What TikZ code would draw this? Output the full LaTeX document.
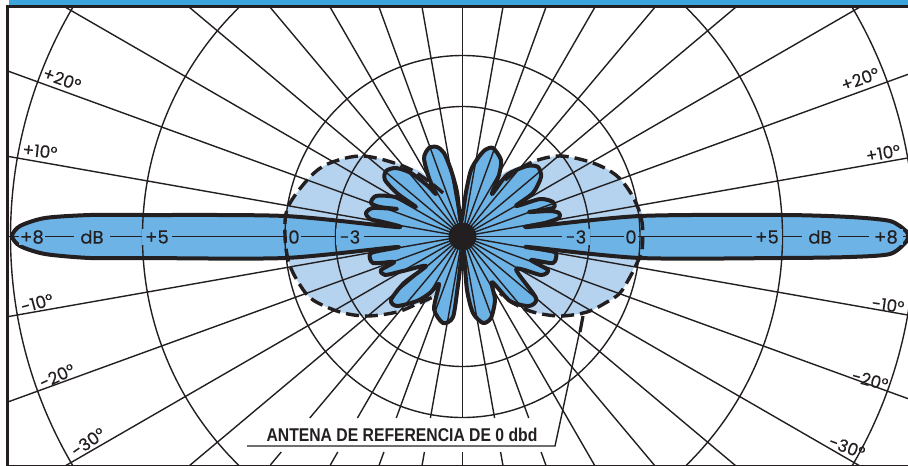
\documentclass[tikz,border=0pt]{standalone}
\usepackage{fontspec}
\setmainfont{Poppins}[FakeBold=0.25]
\newfontfamily\labelfont{Liberation Sans}
\definecolor{lobeblue}{HTML}{6DB3E5}
\definecolor{refblue}{HTML}{B5D3EE}
\definecolor{barblue}{HTML}{3DA5DE}
\definecolor{ink}{HTML}{231F20}
\def\lobepath{plot[smooth cycle,tension=.45] coordinates {
(12,236)(20,226)(45,218)(90,215)(143,215)(285,216)(397,227)
(383,222)(370,219)(366,213)(373,208)(397,209)
(380,207)(371,203)(376,196)(395,197)(416,207)
(398,194)(385,180)(386,171)(396,168)(411,173)(428,186)(436,194)
(429,178)(424,158)(429,148)(437,147)(444,153)(451,170)(457,192)(461,222)
(466,192)(471,170)(478,158)(485,150)(493,148)(501,160)(499,175)(492,194)
(507,175)(527,166)(538,167)(541,177)(533,193)(516,206)
(540,199)(553,202)(553,208)(529,212)
(550,211)(559,213)(559,218)(545,223)(528,227)
(640,216)(783,215)(850,217)(890,221)(906,231)(908,236)
(906,242)(890,254)(850,257)(783,258)(640,258)(528,247)
(545,250)(556,253)(553,263)(531,260)
(548,270)(541,275)(516,269)
(536,298)(529,306)(510,301)(492,282)
(495,300)(491,318)(483,323)(473,313)(467,290)(463,250)
(458,285)(453,317)(443,323)(434,309)(439,284)
(430,293)(417,301)(397,306)(391,300)(404,283)(426,266)
(403,271)(385,275)(381,270)(394,262)
(373,263)(371,253)(397,247)
(285,258)(143,258)(90,258)(45,254)(20,246)
}}
\tikzset{
 grid line/.style={ink,line width=1.4pt},
 thick outline/.style={ink,line width=4pt,line join=round},
 ref dash/.style={ink,line width=3.4pt,dash pattern=on 13pt off 6pt},
 scale label/.style={text=ink,font=\fontsize{18}{18}\selectfont,inner sep=1.5pt},
 lobe label/.style={scale label,fill=lobeblue},
 angle label/.style={text=ink,font=\fontsize{17}{17}\selectfont,inner sep=0pt},
}
\begin{document}
\begin{tikzpicture}[x=1pt,y=-1pt]
\useasboundingbox (0,0) rectangle (908,466);
\coordinate (c) at (462.5,236.5);
\begin{scope}
\clip (9,8) rectangle (908,465);
% reference (dipole) pattern
\fill[refblue] plot[smooth cycle,tension=.55] coordinates {(286,236)(288,207)(310,177)(330,163)(363,156)(403,165)(430,180)(462,236)(433,297)(417,304)(397,312)(367,316)(340,312)(313,300)(300,285)(289,263)};
\fill[refblue] plot[smooth cycle,tension=.55] coordinates {(642,236)(640,207)(617,176)(593,163)(560,156)(530,163)(495,180)(462,236)(500,293)(513,303)(533,312)(560,316)(587,312)(607,302)(620,293)(633,270)};
% circles
\foreach \rx/\ry in {127/130,177.5/181,320/320,452/452}
  \draw[grid line] (c) ellipse[x radius=\rx,y radius=\ry];
% full rays
\foreach \a in {0,10,...,180,190,200,...,220,-40,-30,-20,-10,-50,-60}
  \draw[grid line] (c) -- ({462.5+900*cos(\a)},{236.5-900*sin(\a)});
% rays broken by the caption
\foreach \a in {-130,-120,-110,-100,-90,-80,-70}{
  \draw[grid line] (c) -- ({462.5+182*cot(-\a)},418);
  \draw[grid line] ({462.5+216*cot(-\a)},452) -- ({462.5+229*cot(-\a)},465);
}
% lobes
\fill[lobeblue] \lobepath;
\begin{scope}
\clip \lobepath;
\foreach \rx/\ry in {127/130,177.5/181,320/320}
  \draw[grid line] (c) ellipse[x radius=\rx,y radius=\ry];
\foreach \a in {0,10,...,350}
  \draw[grid line] (c) -- ({462.5+900*cos(\a)},{236.5-900*sin(\a)});
\end{scope}
% dashed reference outline
\draw[ref dash] plot[smooth,tension=.55] coordinates {(443,193)(427,180)(403,166)(363,156)(330,163)(310,177)(288,207)(285,236)(289,263)(300,285)(313,300)(340,312)(367,316)(397,312)(417,304)(433,297)};
\draw[ref dash] plot[smooth,tension=.55] coordinates {(505,180)(530,163)(560,156)(593,163)(617,176)(633,197)(642,222)(642,250)(637,263)(630,277)(620,293)(607,302)(587,312)(560,316)(533,312)(513,303)(500,293)};
\draw[thick outline] \lobepath;
\fill[ink] (c) circle[radius=14];
\end{scope}
% scale labels along the axis
\node[lobe label] (l8) at (32,237) {+8};
\node[lobe label,inner xsep=6pt] (ldb) at (92,237) {dB};
\node[lobe label,inner xsep=3pt] (l5) at (157,237) {+5};
\node[lobe label] (l0) at (294,237) {0};
\node[lobe label,inner xsep=4pt] (lm3) at (350,237) {-3};
\node[lobe label,inner xsep=4pt] (rm3) at (576,237) {-3};
\node[lobe label] (r0) at (631,237) {0};
\node[lobe label,inner xsep=3pt] (r5) at (767,237) {+5};
\node[lobe label,inner xsep=6pt] (rdb) at (820,237) {dB};
\node[lobe label,inner xsep=5pt] (r8) at (886,237) {+8};
% angle labels
\node[angle label,rotate=-20] (a1) at (62,79) {+20°};
\node[angle label,rotate=-6] (a2) at (40,151) {+10°};
\node[angle label,rotate=15] (a3) at (37,303) {-10°};
\node[angle label,rotate=25] (a4) at (57,376) {-20°};
\node[angle label,rotate=35] (a5) at (88,442) {-30°};
\node[angle label,rotate=20] (a6) at (860,79) {+20°};
\node[angle label,rotate=10] (a7) at (883,153) {+10°};
\node[angle label,rotate=-8] (a8) at (888,305) {-10°};
\node[angle label,rotate=-15] (a9) at (870,380) {-20°};
\node[angle label,rotate=-20] (a10) at (847,447) {-30°};
% caption and leader
\node[text=ink,inner sep=0pt,anchor=base] (cap) at (402,441.5) {\scalebox{.85}[1]{\labelfont\bfseries\fontsize{18.5}{19}\selectfont ANTENA DE REFERENCIA DE 0 dbd}};
\coordinate (ls) at (247,446);
\coordinate (lk) at (555,446);
\coordinate (lt) at (583,316);
\coordinate (lm) at (580,332);
\draw[ink,line width=1.4pt] (ls) -- (lk) -- (lt);
\draw[ink,line width=3.2pt] (lm) -- (lt);
% frame
\fill[barblue] (9,0) rectangle (908,5);
\fill[ink] (6,5) rectangle (908,8);
\fill[ink] (6,5) rectangle (9,466);
\fill[ink] (9,464.5) rectangle (908,466);
\end{tikzpicture}
\end{document}
